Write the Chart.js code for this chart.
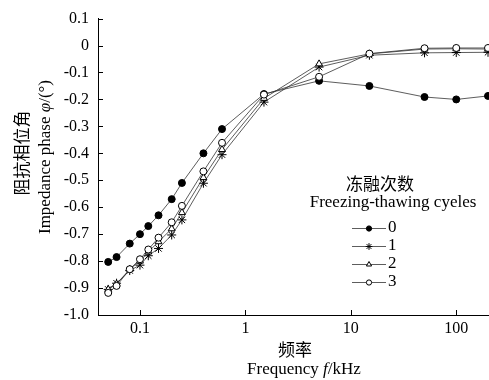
<!DOCTYPE html>
<html>
<head>
<meta charset="utf-8">
<script src="https://cdn.jsdelivr.net/npm/chart.js@4.4.1/dist/chart.umd.min.js"></script>
<style>
  html, body { margin: 0; padding: 0; background: #fff; }
  #wrap { width: 489px; height: 380px; }
</style>
</head>
<body>
<div id="wrap"><canvas id="phaseChart" width="489" height="380"></canvas></div>
<script>
// frequency points (kHz)
const freqs = [0.05, 0.06, 0.08, 0.1, 0.12, 0.15, 0.2, 0.25, 0.4, 0.6, 1.5, 5, 15, 50, 100, 200];

// impedance phase for each number of freeze-thaw cycles
const cycles0 = [-0.803, -0.785, -0.735, -0.70, -0.67, -0.63, -0.57, -0.51, -0.40, -0.31, -0.18, -0.131, -0.15, -0.191, -0.20, -0.187];
const cycles1 = [-0.905, -0.882, -0.835, -0.815, -0.78, -0.753, -0.703, -0.647, -0.511, -0.405, -0.21, -0.08, -0.036, -0.027, -0.026, -0.025];
const cycles2 = [-0.905, -0.885, -0.83, -0.80, -0.766, -0.728, -0.68, -0.62, -0.49, -0.386, -0.196, -0.068, -0.031, -0.013, -0.012, -0.013];
const cycles3 = [-0.918, -0.892, -0.83, -0.793, -0.757, -0.713, -0.656, -0.595, -0.467, -0.361, -0.182, -0.116, -0.03, -0.01, -0.009, -0.009];

const seriesNames = ['0', '1', '2', '3'];
const xTicks = [0.1, 1, 10, 100];
const yTicks = [0.1, 0, -0.1, -0.2, -0.3, -0.4, -0.5, -0.6, -0.7, -0.8, -0.9, -1.0];

const serif = '"Liberation Serif", "DejaVu Serif", serif';
const cjk = '"Noto Sans CJK SC", sans-serif';
const lineCol = '#333';

const styles = [
    { pointStyle: 'circle', bg: '#000', r: 3.5 },
    { pointStyle: 'star', bg: '#fff', r: 4.5 },
    { pointStyle: 'triangle', bg: '#fff', r: 4 },
    { pointStyle: 'circle', bg: '#fff', r: 3.5 }
];

const allSeries = [cycles0, cycles1, cycles2, cycles3];

const datasets = allSeries.map(function (vals, i) {
    return {
        label: seriesNames[i],
        data: freqs.map(function (f, j) { return { x: f, y: vals[j] }; }),
        borderColor: lineCol,
        borderWidth: 0.8,
        pointStyle: styles[i].pointStyle,
        pointRadius: styles[i].r,
        pointBackgroundColor: styles[i].bg,
        pointBorderColor: '#000',
        pointBorderWidth: 1,
        tension: 0,
        clip: 6,
        order: 3 - i
    };
});

// 축 제목, 안쪽 눈금, 범례
const decorPlugin = {
    id: 'decor',
    afterDraw: function (chart) {
        const ctx = chart.ctx;
        const xs = chart.scales.x, ys = chart.scales.y;
        const area = chart.chartArea;
        ctx.save();
        ctx.strokeStyle = '#000';
        ctx.lineWidth = 1;
        ctx.beginPath();
        xTicks.forEach(function (v) {
            const px = Math.round(xs.getPixelForValue(v)) + 0.5;
            ctx.moveTo(px, area.bottom);
            ctx.lineTo(px, area.bottom - 5);
        });
        yTicks.forEach(function (v) {
            const py = Math.round(ys.getPixelForValue(v)) + 0.5;
            ctx.moveTo(area.left, py);
            ctx.lineTo(area.left + 5, py);
        });
        ctx.stroke();

        // axis titles
        ctx.fillStyle = '#000';
        ctx.textAlign = 'center';
        ctx.textBaseline = 'middle';
        ctx.font = '17px ' + cjk;
        ctx.fillText('频率', 295, 350);
        const a = 'Frequency ', b = 'f', c = '/kHz';
        ctx.font = '17px ' + serif;
        const wa = ctx.measureText(a).width, wc = ctx.measureText(c).width;
        ctx.font = 'italic 17px ' + serif;
        const wb = ctx.measureText(b).width;
        let sx = 304 - (wa + wb + wc) / 2;
        ctx.textAlign = 'left';
        ctx.font = '17px ' + serif;
        ctx.fillText(a, sx, 370);
        ctx.font = 'italic 17px ' + serif;
        ctx.fillText(b, sx + wa, 370);
        ctx.font = '17px ' + serif;
        ctx.fillText(c, sx + wa + wb, 370);

        ctx.save();
        ctx.translate(22, 153);
        ctx.rotate(-Math.PI / 2);
        ctx.textAlign = 'center';
        ctx.font = '17px ' + cjk;
        ctx.fillText('阻抗相位角', 0, 0);
        ctx.restore();

        ctx.save();
        ctx.translate(46, 157);
        ctx.rotate(-Math.PI / 2);
        const p1 = 'Impedance phase ', p2 = 'φ', p3 = '/(°)';
        ctx.font = '17px ' + serif;
        const w1 = ctx.measureText(p1).width, w3 = ctx.measureText(p3).width;
        ctx.font = 'italic 17px ' + serif;
        const w2 = ctx.measureText(p2).width;
        let tx = -(w1 + w2 + w3) / 2;
        ctx.textAlign = 'left';
        ctx.font = '17px ' + serif;
        ctx.fillText(p1, tx, 0);
        ctx.font = 'italic 17px ' + serif;
        ctx.fillText(p2, tx + w1, 0);
        ctx.font = '17px ' + serif;
        ctx.fillText(p3, tx + w1 + w2, 0);
        ctx.restore();

        // legend
        ctx.textAlign = 'center';
        ctx.font = '17px ' + cjk;
        ctx.fillText('冻融次数', 380, 184);
        ctx.font = '17px ' + serif;
        ctx.fillText('Freezing-thawing cyeles', 393, 203);
        const rows = [228, 246, 264, 282];
        seriesNames.forEach(function (name, i) {
            const y = rows[i];
            ctx.strokeStyle = lineCol;
            ctx.lineWidth = 0.8;
            ctx.beginPath();
            ctx.moveTo(352, y + 0.5);
            ctx.lineTo(386, y + 0.5);
            ctx.stroke();
            ctx.fillStyle = styles[i].bg;
            ctx.strokeStyle = '#000';
            ctx.lineWidth = 1;
            Chart.helpers.drawPoint(ctx, {
                pointStyle: styles[i].pointStyle,
                radius: styles[i].r * 0.75,
                rotation: 0,
                borderWidth: 1
            }, 369, y + 0.5);
            ctx.fillStyle = '#000';
            ctx.textAlign = 'left';
            ctx.font = '17px ' + serif;
            ctx.fillText(name, 388, y);
        });
        ctx.restore();
    }
};

new Chart(document.getElementById('phaseChart'), {
    type: 'line',
    data: { datasets: datasets },
    options: {
        responsive: false,
        animation: false,
        layout: { autoPadding: false, padding: { top: 18, right: 1, left: 0, bottom: 0 } },
        plugins: {
            legend: { display: false },
            tooltip: { enabled: false }
        },
        scales: {
            x: {
                type: 'logarithmic',
                min: 0.04,
                max: 200,
                afterBuildTicks: function (scale) {
                    scale.ticks = xTicks.map(function (v) { return { value: v }; });
                },
                afterFit: function (scale) { scale.height = 65; },
                ticks: {
                    color: '#000',
                    font: { family: serif, size: 16 },
                    padding: 4,
                    maxRotation: 0,
                    autoSkip: false,
                    callback: function (v) { return String(v); }
                },
                grid: { display: false, drawTicks: false },
                border: { display: true, color: '#000', width: 1 }
            },
            y: {
                min: -1.0,
                max: 0.1,
                afterBuildTicks: function (scale) {
                    scale.ticks = yTicks.map(function (v) { return { value: v }; });
                },
                afterFit: function (scale) { scale.width = 98; },
                ticks: {
                    color: '#000',
                    font: { family: serif, size: 16 },
                    padding: 9,
                    autoSkip: false,
                    callback: function (v) { return Math.abs(v) < 1e-9 ? '0' : v.toFixed(1); }
                },
                grid: { display: false, drawTicks: false },
                border: { display: true, color: '#000', width: 1 }
            }
        }
    },
    plugins: [decorPlugin]
});
</script>
</body>
</html>
